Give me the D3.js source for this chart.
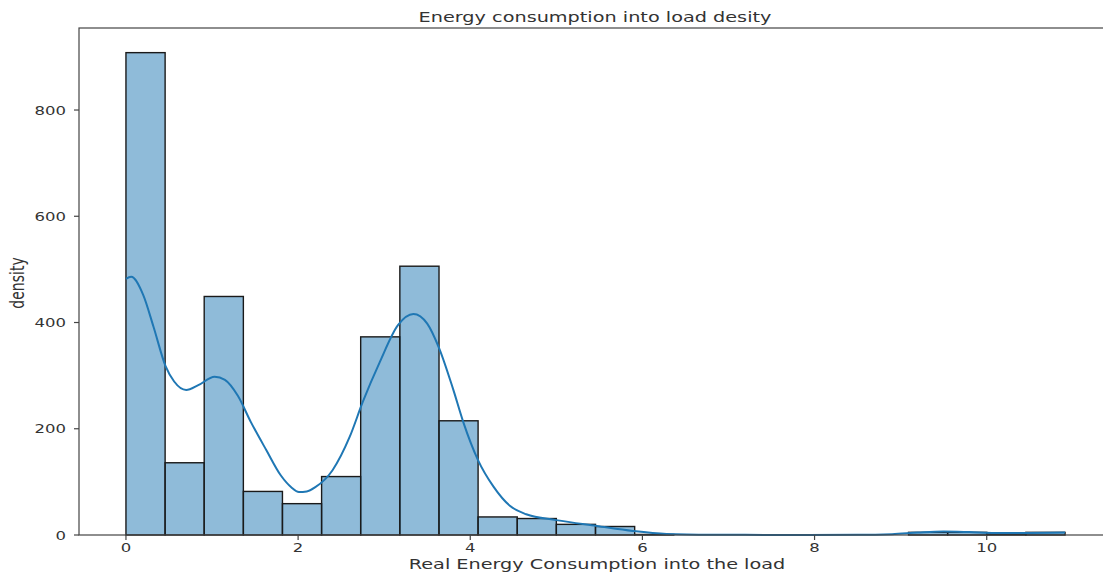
<!DOCTYPE html>
<html>
<head>
<meta charset="utf-8">
<script src="https://cdn.jsdelivr.net/npm/d3@7"></script>
<style>
  html, body { margin: 0; padding: 0; background: #fff; }
  svg { display: block; }
  text { font-family: "DejaVu Sans", sans-serif; fill: #333; }
</style>
</head>
<body>
<svg id="chart" width="1103" height="576"></svg>
<script>
// Histogram bin edges (kWh) and counts per bin
const binEdges = [0, 0.455, 0.909, 1.364, 1.818, 2.273, 2.727, 3.182, 3.637, 4.091,
  4.546, 5.000, 5.455, 5.910, 6.364, 6.819, 7.273, 7.728, 8.182, 8.637,
  9.092, 9.546, 10.001, 10.455, 10.910];
const counts = [908, 136, 449, 82, 59, 110, 373, 506, 215, 34,
  31, 20, 16, 1, 0, 0, 0, 0, 0, 0,
  5, 5, 2, 5];

// Kernel density estimate, scaled to counts
const kdeX = [0, 0.06, 0.2, 0.32, 0.46, 0.56, 0.70, 0.84, 1.03, 1.15, 1.3, 1.45, 1.63, 1.8,
  1.92, 2.01, 2.1, 2.2, 2.4, 2.6, 2.75, 2.95, 3.16, 3.34, 3.5, 3.64, 3.8, 3.92, 4.09, 4.27, 4.46, 4.65,
  5.0, 5.47, 5.89, 6.28, 6.8, 7.5, 8.5, 8.9, 9.2, 9.5, 9.8, 10.1, 10.5, 10.91];
const kdeY = [482, 486, 452, 392, 318, 289, 273, 282, 298, 292, 262, 213, 160, 112,
  90, 81, 82, 90, 122, 185, 250, 326, 395, 416, 398, 351, 275, 212, 141, 91, 55, 39,
  28, 17, 7.5, 2, 0.5, 0.2, 0.3, 1.5, 4.5, 6.5, 5.5, 4, 4, 4.5];

const xTicks = [0, 2, 4, 6, 8, 10];
const yTicks = [0, 200, 400, 600, 800];

const titleText = "Energy consumption into load desity";
const xLabelText = "Real Energy Consumption into the load";
const yLabelText = "density";

const svg = d3.select("#chart");
const plotLeft = 79, plotRight = 1112, plotTop = 28, plotBottom = 535;
const stretch = 1.375; // horizontal text stretch

const x = d3.scaleLinear().domain([-0.5455, 11.4555]).range([plotLeft, plotRight]);
const y = d3.scaleLinear().domain([0, 954.4]).range([plotBottom, plotTop]);

const bins = counts.map((c, i) => ({ x0: binEdges[i], x1: binEdges[i + 1], n: c }));

// Bars
svg.append("g")
  .selectAll("rect")
  .data(bins)
  .join("rect")
  .attr("x", d => x(d.x0))
  .attr("width", d => x(d.x1) - x(d.x0))
  .attr("y", d => y(d.n))
  .attr("height", d => y(0) - y(d.n))
  .attr("fill", "#1f77b4")
  .attr("fill-opacity", 0.5)
  .attr("stroke", "#1a1a1a")
  .attr("stroke-width", 1.4);

// Density curve
const kde = kdeX.map((v, i) => [v, kdeY[i]]);
svg.append("path")
  .datum(kde)
  .attr("fill", "none")
  .attr("stroke", "#1f77b4")
  .attr("stroke-width", 2)
  .attr("d", d3.line().x(d => x(d[0])).y(d => y(d[1])).curve(d3.curveMonotoneX));

// Frame
svg.append("rect")
  .attr("x", plotLeft).attr("y", plotTop)
  .attr("width", plotRight - plotLeft).attr("height", plotBottom - plotTop)
  .attr("fill", "none").attr("stroke", "#444").attr("stroke-width", 1.2);

// Stretched text helper
function label(g, txt, px, py, size, anchor, rotate) {
  return g.append("g")
    .attr("transform", `translate(${px},${py}) scale(${stretch},1)` + (rotate ? " rotate(-90)" : ""))
    .append("text")
    .attr("text-anchor", anchor)
    .attr("font-size", size)
    .text(txt);
}

// X axis ticks
const xg = svg.append("g");
xTicks.forEach(v => {
  xg.append("line").attr("x1", x(v)).attr("x2", x(v)).attr("y1", plotBottom).attr("y2", plotBottom + 5)
    .attr("stroke", "#444").attr("stroke-width", 1.2);
  label(xg, String(v), x(v), 552, 12, "middle", false);
});

// Y axis ticks
const yg = svg.append("g");
yTicks.forEach(v => {
  yg.append("line").attr("x1", plotLeft - 5).attr("x2", plotLeft).attr("y1", y(v)).attr("y2", y(v))
    .attr("stroke", "#444").attr("stroke-width", 1.2);
  label(yg, String(v), 66, y(v) + 4.5, 12, "end", false);
});

// Titles
label(svg, titleText, 595, 21.5, 14, "middle", false);
label(svg, xLabelText, 597, 569, 14, "middle", false);
label(svg, yLabelText, 24, 283, 14, "middle", true);
</script>
</body>
</html>
